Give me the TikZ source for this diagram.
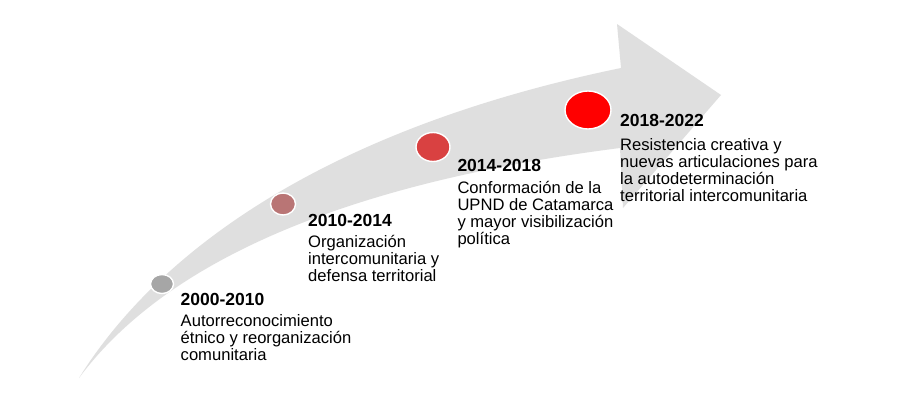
\documentclass[tikz,border=0pt]{standalone}
\usepackage{fontspec}
\setmainfont{Liberation Sans}
\usetikzlibrary{shapes.geometric}
\definecolor{band}{HTML}{DFDFDF}
\definecolor{cA}{HTML}{A6A6A6}
\definecolor{cB}{HTML}{B97575}
\definecolor{cC}{HTML}{D94141}
\definecolor{cD}{HTML}{FF0000}
\newcommand{\bodylines}[1]{\fontsize{16.6}{16.7}\selectfont\begin{tabular}[t]{@{}l@{}}#1\end{tabular}}
\begin{document}
\begin{tikzpicture}[x=1pt,y=-1pt,
  dot/.style={ellipse,draw=white,line width=1.4pt,inner sep=0pt},
  head/.style={anchor=base west,inner sep=0pt,font=\fontsize{17.5}{18}\selectfont\bfseries},
  body/.style={anchor=base west,inner sep=0pt}]
\useasboundingbox (0,0) rectangle (899,394);
\fill[white] (0,0) rectangle (899,394);
% curved arrow
\fill[band] (79,378) .. controls (160,248) and (330,128) .. (621,68)
  -- (617,24) -- (721,95) -- (623,208) -- (620,148)
  .. controls (353,182) and (168,258) .. (79,378) -- cycle;
% dots
\node[dot,fill=cA,minimum width=23,minimum height=19] (c1) at (162,284) {};
\node[dot,fill=cB,minimum width=25,minimum height=22] (c2) at (283,204) {};
\node[dot,fill=cC,minimum width=34,minimum height=29] (c3) at (433,147) {};
\node[dot,fill=cD,minimum width=46,minimum height=38] (c4) at (588,110) {};
% texts
\node[head] (h1) at (180.5,305) {2000-2010};
\node[body] (b1) at (180.5,326) {\bodylines{Autorreconocimiento\\étnico y reorganización\\comunitaria}};
\node[head] (h2) at (308,226) {2010-2014};
\node[body] (b2) at (308,247.7) {\bodylines{Organización\\intercomunitaria y\\defensa territorial}};
\node[head] (h3) at (457.3,171.7) {2014-2018};
\node[body] (b3) at (457.3,193.3) {\bodylines{Conformación de la\\UPND de Catamarca\\y mayor visibilización\\política}};
\node[head] (h4) at (620,126.7) {2018-2022};
\node[body] (b4) at (620,150) {\bodylines{Resistencia creativa y\\nuevas articulaciones para\\la autodeterminación\\territorial intercomunitaria}};
\end{tikzpicture}
\end{document}
